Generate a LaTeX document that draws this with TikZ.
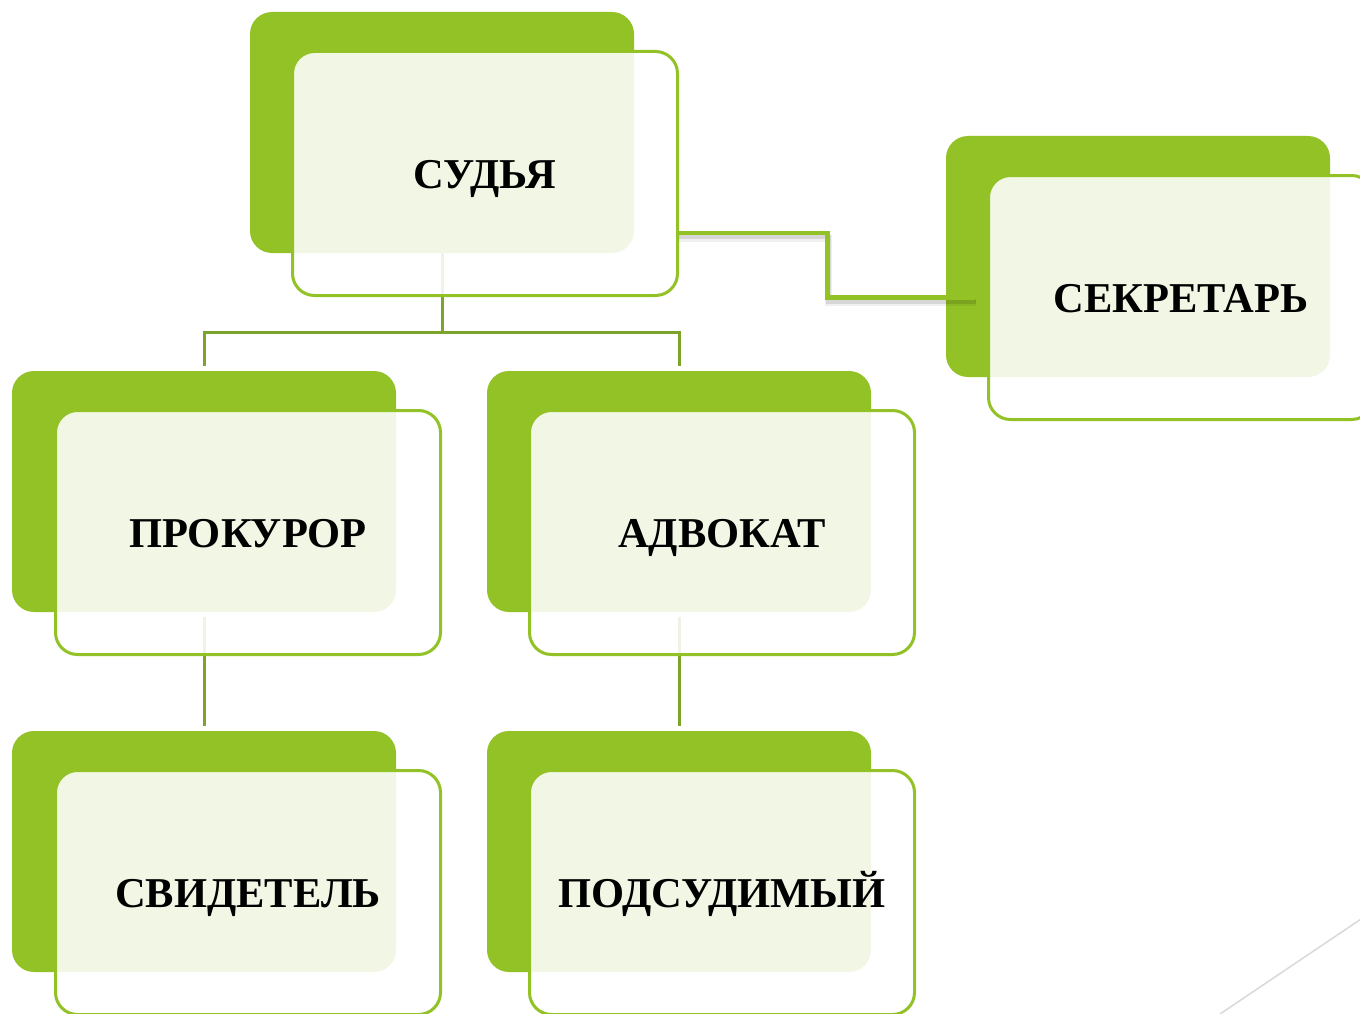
\documentclass[tikz,border=0pt]{standalone}
\usepackage{fontspec}
\setmainfont{Liberation Serif}
\usetikzlibrary{backgrounds}
\definecolor{leaf}{RGB}{146,194,38}
\definecolor{olive}{RGB}{124,164,42}
\definecolor{diag}{RGB}{217,217,217}
\begin{document}
\begin{tikzpicture}[x=1pt,y=-1pt,
  backbox/.style={rectangle, rounded corners=22pt, fill=leaf, draw=none,
    minimum width=384pt, minimum height=241pt, inner sep=0pt, outer sep=0pt},
  frontbox/.style={rectangle, rounded corners=22pt, draw=leaf, line width=3pt,
    fill=white, fill opacity=0.88, text opacity=1, draw opacity=1,
    minimum width=385pt, minimum height=244pt, inner sep=0pt, outer sep=0pt,
    font=\fontsize{42.5}{48}\selectfont\bfseries, text=black,
    text height=29pt, text depth=0pt},
  tree/.style={draw=olive, line width=3pt},
  sec/.style={draw=leaf, line width=4.5pt},
  secshadow/.style={draw=black, opacity=0.10, line width=4.5pt,
    transform canvas={shift={(1pt,-4pt)}}},
  secshadowsoft/.style={draw=black, opacity=0.06, line width=7pt,
    transform canvas={shift={(1pt,-5pt)}}}
]
\clip (0,0) rectangle (1360,1014);

% back boxes
\path
  (442,132.5)  node[backbox] (b1) {}
  (1138,256.5) node[backbox] (b2) {}
  (204,491.5)  node[backbox] (b3) {}
  (679,491.5)  node[backbox] (b4) {}
  (204,851.5)  node[backbox] (b5) {}
  (679,851.5)  node[backbox] (b6) {};

% tree connectors behind the boxes
\begin{scope}[on background layer]
  \fill[white] (0,0) rectangle (1360,1014);
  \coordinate (j) at (442,332);
  \draw[tree] (b1.south) -- (j);
  \draw[tree, shorten >=5pt] (j) -| (b3.north);
  \draw[tree, shorten >=5pt] (j) -| (b4.north);
  \draw[tree, shorten >=5pt, shorten <=5pt] (b3.south) -- (b5.north);
  \draw[tree, shorten >=5pt, shorten <=5pt] (b4.south) -- (b6.north);
\end{scope}

% front boxes
\path
  (485,173.5)  node[frontbox] (f1) {СУДЬЯ}
  (1181,297.5) node[frontbox] (f2) {СЕКРЕТАРЬ}
  (248,532.5)  node[frontbox] (f3) {ПРОКУРОР}
  (722,532.5)  node[frontbox] (f4) {АДВОКАТ}
  (248,892.5)  node[frontbox] (f5) {СВИДЕТЕЛЬ}
  (722,892.5)  node[frontbox] (f6) {ПОДСУДИМЫЙ};

% connector to the secretary, with its soft shadow
\draw[secshadowsoft] ([yshift=-59.5pt]f1.east) -- ++(150,0) |- ([xshift=-13.5pt]f2.west);
\draw[secshadow] ([yshift=-59.5pt]f1.east) -- ++(150,0) |- ([xshift=-13.5pt]f2.west);
\draw[sec] ([yshift=-59.5pt]f1.east) -- ++(150,0) |- ([xshift=-13.5pt]f2.west);

% faint diagonal line in the lower right corner
\draw[diag, line width=1.5pt] (1220,1014) -- (1370,913);
\end{tikzpicture}
\end{document}
